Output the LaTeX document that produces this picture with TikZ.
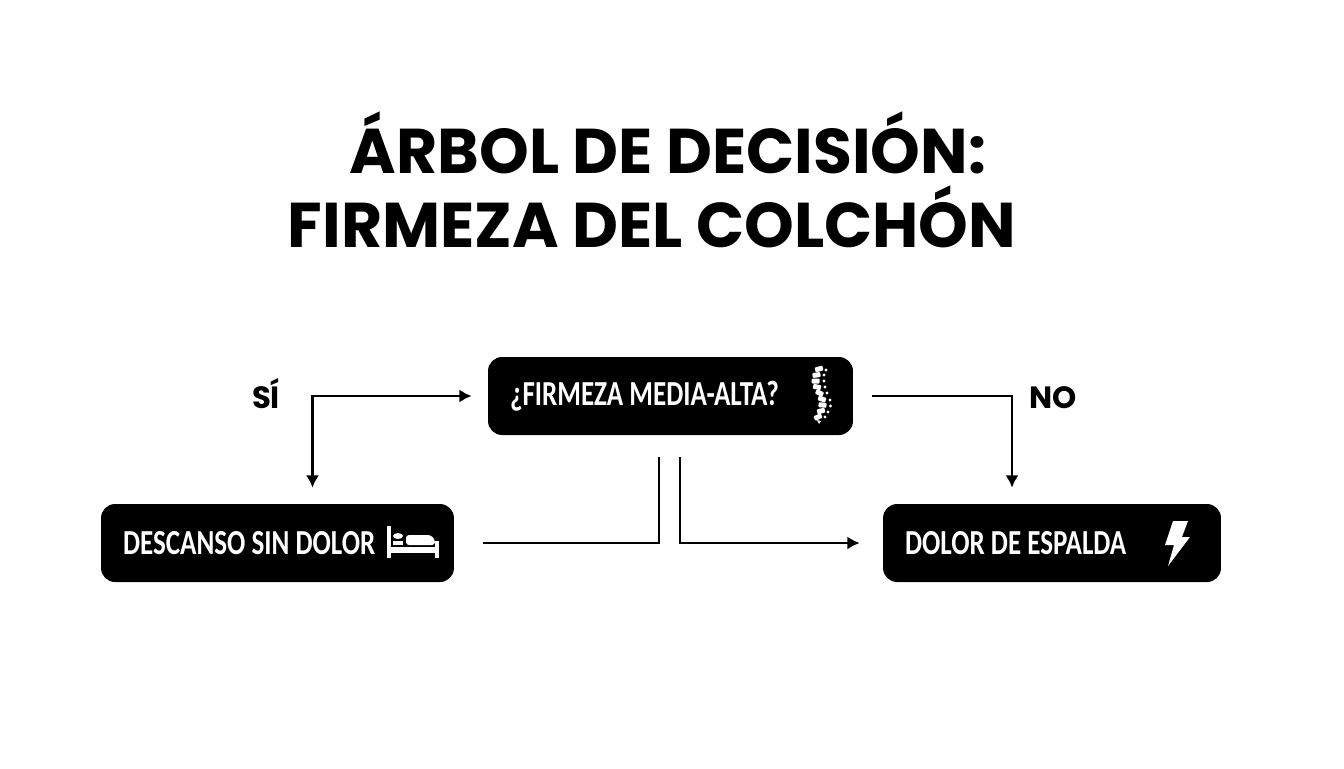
\documentclass[tikz,border=0pt]{standalone}
\usepackage{fontspec}
\usetikzlibrary{arrows.meta}
\setmainfont{Poppins}
\newfontfamily\boxfont[FakeStretch=0.77]{Carlito}
\tikzset{
  box/.style={fill=black, text=white, rounded corners=0.28cm, minimum height=1.56cm, inner xsep=0.44cm, align=flush left, font=\boxfont\fontsize{20}{24}\selectfont\bfseries},
  flow/.style={draw=black, line width=1.6pt},
  flowtip/.tip={Latex[length=7pt,width=7.5pt]},
  tag/.style={anchor=base, font=\fontsize{17.5}{20}\selectfont\bfseries},
  heading/.style={anchor=base, font=\fontsize{36}{40}\selectfont\bfseries}
}
\begin{document}
\begin{tikzpicture}[x=0.02cm, y=-0.02cm]
\useasboundingbox (0,0) rectangle (1344,768);

\node[heading] (tituloA) at (668,173) {ÁRBOL DE DECISIÓN:};
\node[heading] (tituloB) at (652,247) {FIRMEZA DEL COLCHÓN};

\node[box, text width=6.42cm] (firmeza) at (670.5,396) {¿FIRMEZA MEDIA-ALTA?};
\node[box, text width=6.18cm] (descanso) at (277.5,543) {DESCANSO SIN DOLOR};
\node[box, text width=5.88cm] (espalda) at (1052,543) {DOLOR DE ESPALDA};

\node[tag] (si) at (266,408) {SÍ};
\node[tag] (no) at (1053,408) {NO};

% connectors
\draw[flow, flowtip-flowtip, shorten <=0.32cm, shorten >=0.32cm] (firmeza.west) -| ([xshift=0.7cm]descanso.north);
\draw[flow, -flowtip, shorten <=0.38cm, shorten >=0.32cm] (firmeza.east) -| ([xshift=-0.8cm]espalda.north);
\draw[flow, shorten <=0.58cm, shorten >=0.44cm] (descanso.east) -| ([xshift=-0.23cm]firmeza.south);
\draw[flow, -flowtip, shorten <=0.44cm, shorten >=0.46cm] ([xshift=0.19cm]firmeza.south) |- (espalda.west);

% spine
\foreach \x/\y/\r in {819/369/15,816.5/375/8,815.5/381/0,817/387/-12,819.5/393/-25,822/399/-20,822.5/405/-5,821/411/15,818/417/25}{
   \fill[white, rounded corners=0.02cm, rotate around={\r:(\x,\y)}] (\x-4,\y-2.5) rectangle (\x+4,\y+2.5);
}
\foreach \x/\y in {826/370,824/375,824/381,825/387,827/393,830/400,830.5/406,828/412,825/417}{
   \fill[white] (\x,\y) circle (1.7);
}
\fill[white] (817,420) -- (821,421) -- (819,424) -- cycle;

% bed
\fill[white] (387,526) rectangle (391,558);
\fill[white] (391,547) rectangle (435,553);
\fill[white] (435,541) rectangle (439,558);
\fill[white] (398,536) ellipse (5 and 3);
\fill[white] (393,541) rectangle (403,545);
\fill[white, rounded corners=0.06cm] (406,545) -- (406,535) -- (431,535) -- (435,540) -- (435,545) -- cycle;

% bolt
\fill[white] (1173,521) -- (1188,521) -- (1182,537) -- (1190,537) -- (1168,566) -- (1174,545) -- (1165,545) -- cycle;
\end{tikzpicture}
\end{document}
